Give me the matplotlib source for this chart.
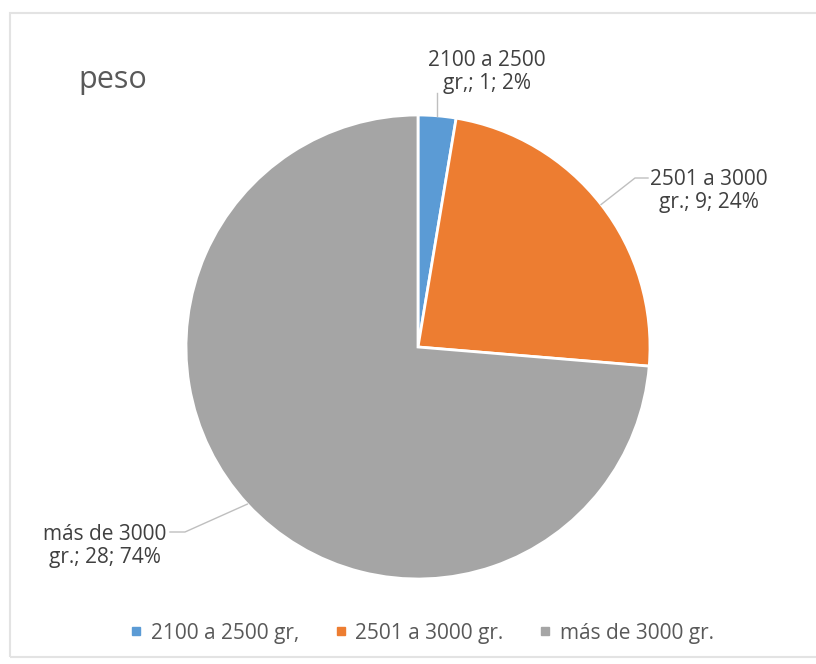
import matplotlib.pyplot as plt
import numpy as np
from matplotlib.patches import Rectangle

plt.rcParams['font.family'] = ['Open Sans', 'DejaVu Sans']

# data
categories = ['2100 a 2500 gr,', '2501 a 3000 gr.', 'más de 3000 gr.']
label_names = ['2100 a 2500\ngr,', '2501 a 3000\ngr.', 'más de 3000\ngr.']
counts = [1, 9, 28]
pct_labels = [2, 24, 74]   # as printed on the chart
colors = ['#5B9BD5', '#ED7D31', '#A5A5A5']

W, H = 816, 664
fig = plt.figure(figsize=(W / 100, H / 100), dpi=100)
ax = fig.add_axes([0, 0, 1, 1])

# chart border
fig.patches.append(Rectangle((10 / W, 7 / H), 820 / W, 644 / H, transform=fig.transFigure,
                             fill=False, edgecolor='#e3e3e3', linewidth=1.5))

cx, cy, r = 418, H - 347, 232
wedges, _ = ax.pie(counts, colors=colors, startangle=90, counterclock=False,
                   center=(cx, cy), radius=r, frame=True,
                   wedgeprops=dict(edgecolor='white', linewidth=2))
ax.set_xlim(0, W)
ax.set_ylim(0, H)
ax.set_aspect('equal')
ax.axis('off')

# label centres (pixel coords) and leader line elbows
text_pos = [(487, H - 72), (709, H - 191), (105, H - 546)]
elbows = [None, (635, H - 178), (185, H - 532)]
elbow_ends = [None, (648, H - 178), (170, H - 532)]

for w, name, c, p, tp, el, ee in zip(wedges, label_names, counts, pct_labels, text_pos, elbows, elbow_ends):
    mid = np.deg2rad((w.theta1 + w.theta2) / 2)
    ex, ey = cx + r * np.cos(mid), cy + r * np.sin(mid)
    lines = name.split('\n')
    txt = f"{lines[0]}\n{lines[1]}; {c}; {p}%"
    ax.text(tp[0], tp[1], txt, ha='center', va='center', fontsize=15, color='#404040',
            linespacing=1.12, multialignment='center')
    if el is None:
        ax.plot([ex, ex], [H - 93, ey], color='#bfbfbf', lw=1)
    else:
        ax.plot([ex, el[0], ee[0]], [ey, el[1], ee[1]], color='#bfbfbf', lw=1)

fig.text(78 / W, 1 - 88 / H, 'peso', fontsize=22, color='#595959', ha='left', va='baseline')

handles = [plt.Line2D([], [], marker='s', linestyle='none', markersize=6, color=col) for col in colors]
fig.legend(handles, categories, loc='center', bbox_to_anchor=(421 / W, 1 - 633 / H), ncol=3,
           frameon=False, fontsize=15, labelcolor='#595959', handletextpad=0.3,
           columnspacing=1.6, handlelength=0.8)

fig.savefig('out.png', dpi=100)
